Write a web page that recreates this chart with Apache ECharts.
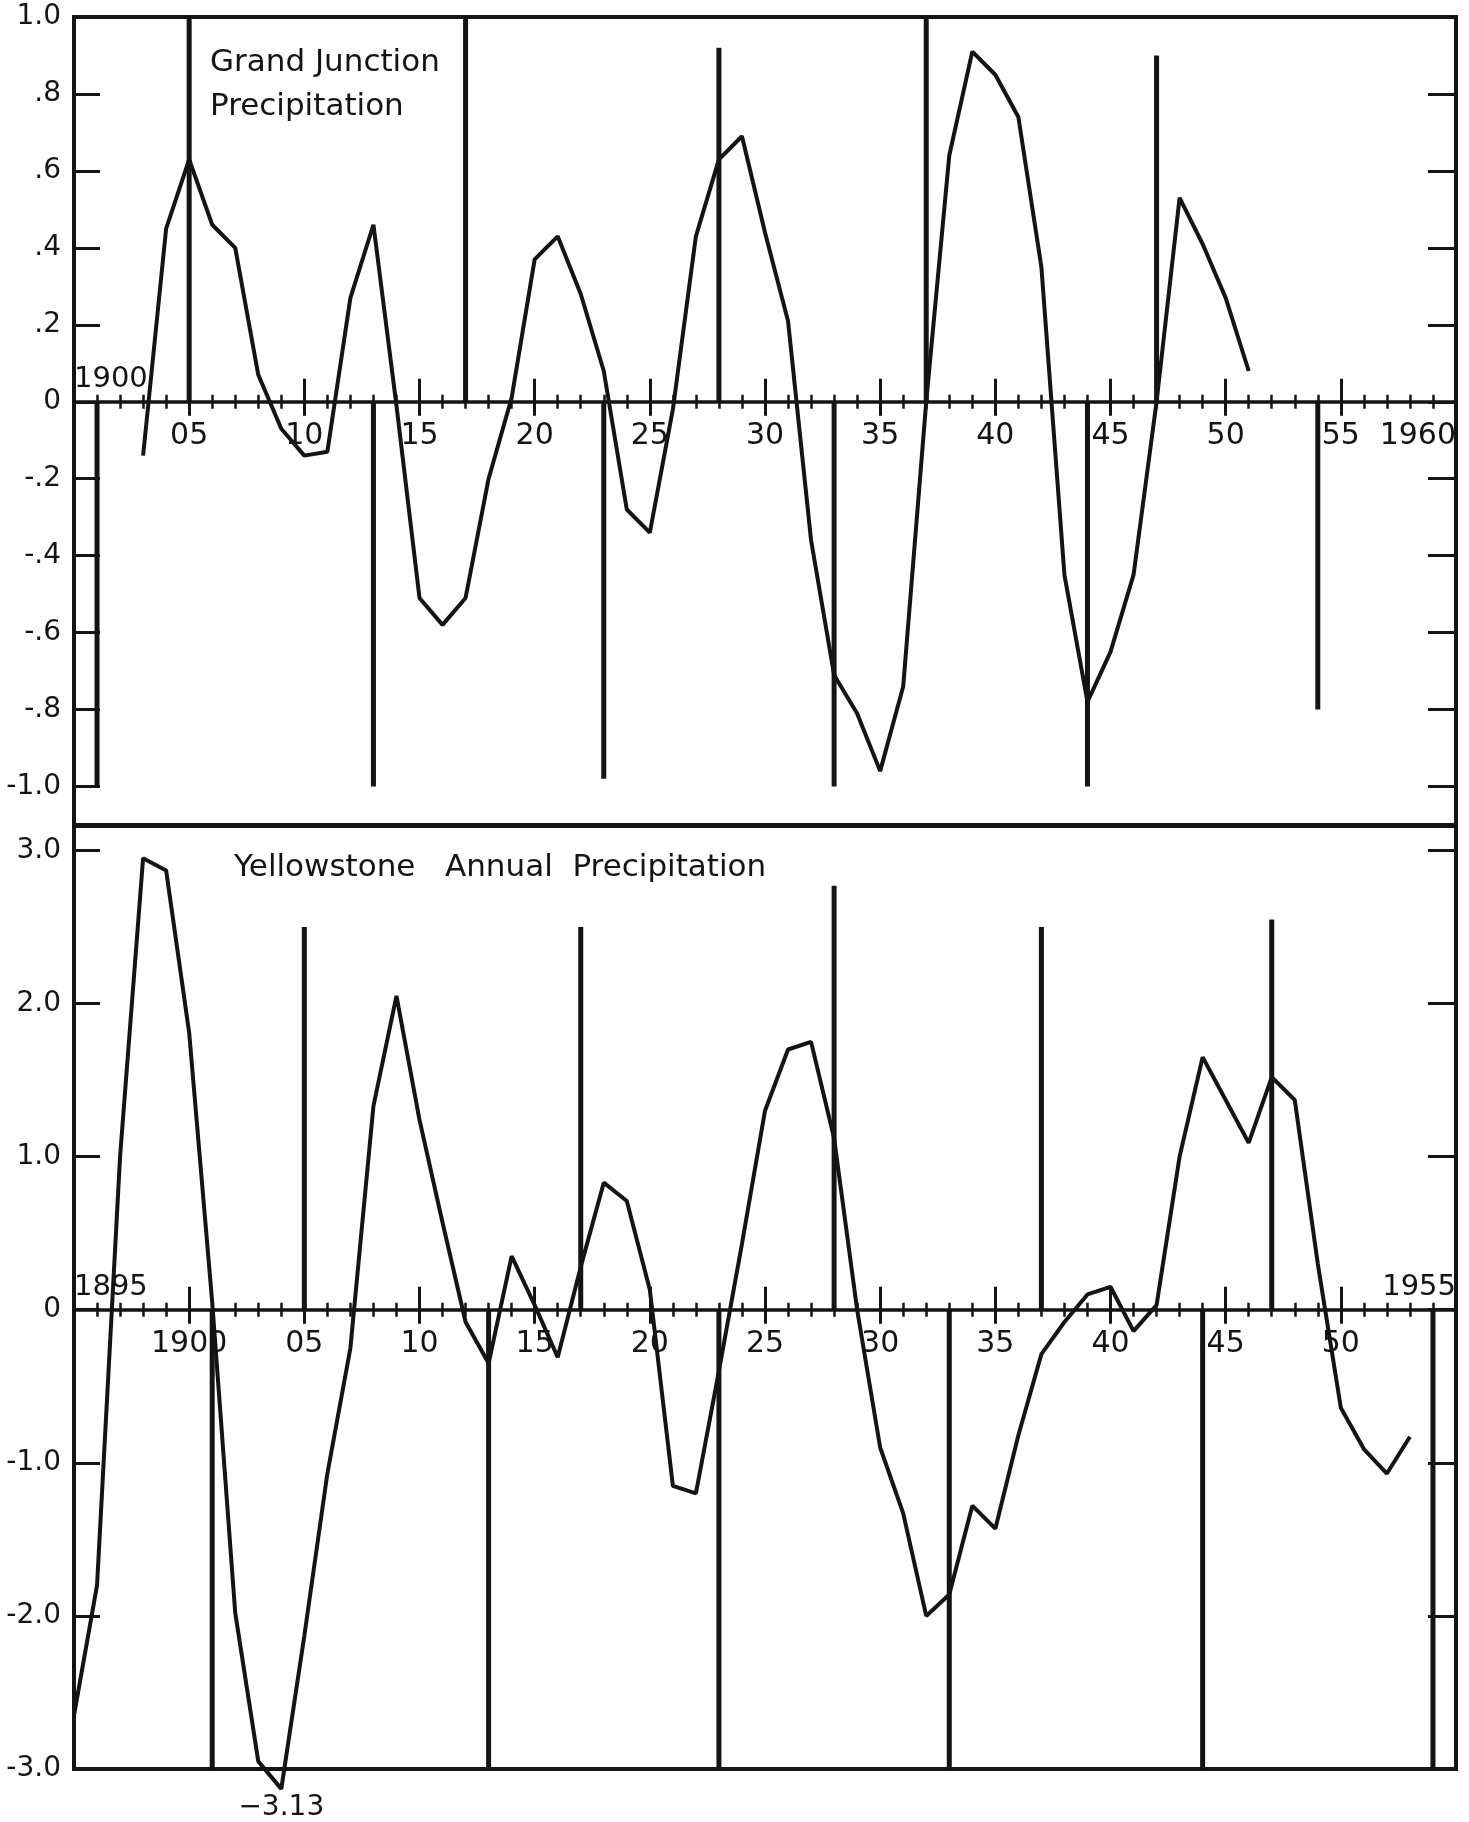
<!DOCTYPE html>
<html>
<head>
<meta charset="utf-8">
<script src="https://cdn.jsdelivr.net/npm/echarts@6/dist/echarts.min.js"></script>
<style>
html,body{margin:0;padding:0;background:#ffffff;}
#chart{width:1469px;height:1822px;}
</style>
</head>
<body>
<div id="chart"></div>
<script>
// ---------- Grand Junction precipitation (top panel) ----------
const gjYears = [1903,1904,1905,1906,1907,1908,1909,1910,1911,1912,1913,1914,1915,1916,1917,1918,1919,1920,
  1921,1922,1923,1924,1925,1926,1927,1928,1929,1930,1931,1932,1933,1934,1935,1936,1937,1938,1939,1940,
  1941,1942,1943,1944,1945,1946,1947,1948,1949,1950,1951];
const gjValues = [-0.14,0.45,0.63,0.46,0.40,0.07,-0.07,-0.14,-0.13,0.27,0.46,-0.01,-0.51,-0.58,-0.51,-0.20,0.01,0.37,
  0.43,0.28,0.08,-0.28,-0.34,-0.02,0.43,0.63,0.69,0.44,0.21,-0.36,-0.71,-0.81,-0.96,-0.74,0.00,0.64,0.91,0.85,
  0.74,0.35,-0.45,-0.78,-0.65,-0.45,0.00,0.53,0.41,0.27,0.08];

// vertical marker lines (sunspot years) in the top panel
const gjMarkYears  = [1901,1905,1913,1917,1923,1928,1933,1937,1944,1947,1954];
const gjMarkValues = [-1.0,1.0,-1.0,1.0,-0.98,0.92,-1.0,1.0,-1.0,0.90,-0.80];

// ---------- Yellowstone annual precipitation (bottom panel) ----------
const ysYears = [1895,1896,1897,1898,1899,1900,1901,1902,1903,1904,1905,1906,1907,1908,1909,1910,1911,1912,
  1913,1914,1915,1916,1917,1918,1919,1920,1921,1922,1923,1924,1925,1926,1927,1928,1929,1930,1931,1932,
  1933,1934,1935,1936,1937,1938,1939,1940,1941,1942,1943,1944,1945,1946,1947,1948,1949,1950,1951,1952,1953];
const ysValues = [-2.65,-1.80,1.00,2.95,2.87,1.81,0.05,-1.98,-2.95,-3.13,-2.13,-1.07,-0.25,1.33,2.05,1.24,0.57,-0.08,
  -0.35,0.35,0.03,-0.31,0.28,0.83,0.71,0.13,-1.15,-1.20,-0.40,0.43,1.30,1.70,1.75,1.12,0.00,-0.90,-1.33,-2.00,
  -1.86,-1.28,-1.43,-0.82,-0.29,-0.08,0.10,0.15,-0.14,0.03,1.00,1.65,1.37,1.09,1.52,1.37,0.30,-0.64,-0.91,-1.07,-0.83];

const ysMarkYears  = [1901,1905,1913,1917,1923,1928,1933,1937,1944,1947,1954];
const ysMarkValues = [-3.0,2.5,-3.0,2.5,-3.0,2.77,-3.0,2.5,-3.0,2.55,-3.0];

// ---------- tick labels ----------
const topYTicks  = [-1.0,-0.8,-0.6,-0.4,-0.2,0,0.2,0.4,0.6,0.8,1.0];
const topYLabels = ['-1.0','-.8','-.6','-.4','-.2','0','.2','.4','.6','.8','1.0'];
const botYTicks  = [-3,-2,-1,0,1,2,3];
const botYLabels = ['-3.0','-2.0','-1.0','0','1.0','2.0','3.0'];

const topXTicks  = [1905,1910,1915,1920,1925,1930,1935,1940,1945,1950,1955,1960];
const topXLabels = ['05','10','15','20','25','30','35','40','45','50','55','1960'];
const topXCornerTicks  = [1900];
const topXCornerLabels = ['1900'];

const botXTicks  = [1900,1905,1910,1915,1920,1925,1930,1935,1940,1945,1950];
const botXLabels = ['1900','05','10','15','20','25','30','35','40','45','50'];
const botXCornerTicks  = [1895,1955];
const botXCornerLabels = ['1895','1955'];

const titleTop = 'Grand Junction\nPrecipitation';
const titleBottom = 'Yellowstone   Annual  Precipitation';

// axis ranges
const topXRange = [1900, 1960];
const botXRange = [1895, 1955];
const topYRange = [-1.1, 1.0];
const botYRange = [-3.0, 3.16];

// ---------- helpers ----------
const INK = '#141414';
const FONT = 'DejaVu Sans';
function lookup(ticks, labels) {
  return function (v) {
    for (let i = 0; i < ticks.length; i++) {
      if (Math.abs(ticks[i] - v) < 1e-6) return labels[i];
    }
    return '';
  };
}
function zip(a, b) { return a.map((x, i) => [x, b[i]]); }

// panel layout
const topPanel = { left: 74, top: 17, width: 1382, height: 808 };
const botPanel = { left: 74, top: 826, width: 1382, height: 943 };
// split each panel at its zero line so the year axis sits on y = 0
function zeroSplit(panel, yr) {
  const upper = panel.height * yr[1] / (yr[1] - yr[0]);
  return [
    { left: panel.left, top: panel.top, width: panel.width, height: upper, show: false },
    { left: panel.left, top: panel.top + upper, width: panel.width, height: panel.height - upper, show: false }
  ];
}
const topSplit = zeroSplit(topPanel, topYRange);
const botSplit = zeroSplit(botPanel, botYRange);

function hiddenX(gridIndex, r) {
  return { type: 'value', gridIndex: gridIndex, min: r[0], max: r[1], show: false,
    axisLine: { onZero: false }, splitLine: { show: false } };
}
function hiddenY(gridIndex) {
  return { type: 'value', gridIndex: gridIndex, min: 0, max: 1, show: false,
    axisLine: { onZero: false }, splitLine: { show: false } };
}
function yearAxisDown(gridIndex, r, ticks, labels) {
  return {
    type: 'value', gridIndex: gridIndex, min: r[0], max: r[1], interval: 5, position: 'bottom',
    axisLine: { show: true, onZero: false, lineStyle: { color: INK, width: 3.5 } },
    axisTick: { show: true, inside: false, length: 14, lineStyle: { color: INK, width: 3 } },
    minorTick: { show: true, splitNumber: 5, length: 7, lineStyle: { color: INK, width: 2.5 } },
    splitLine: { show: false }, minorSplitLine: { show: false },
    axisLabel: {
      show: true, margin: 19, color: INK, fontFamily: FONT, fontSize: 30,
      showMinLabel: true, showMaxLabel: true, alignMaxLabel: 'right',
      formatter: lookup(ticks, labels)
    }
  };
}
function yearAxisUp(gridIndex, r, ticks, labels) {
  return {
    type: 'value', gridIndex: gridIndex, min: r[0], max: r[1], interval: 5, position: 'top',
    axisLine: { show: false, onZero: false },
    axisTick: { show: true, inside: false, length: 23, lineStyle: { color: INK, width: 3 } },
    minorTick: { show: true, splitNumber: 5, length: 7, lineStyle: { color: INK, width: 2.5 } },
    splitLine: { show: false }, minorSplitLine: { show: false },
    axisLabel: {
      show: true, margin: 8, color: INK, fontFamily: FONT, fontSize: 29,
      showMinLabel: true, showMaxLabel: true, alignMinLabel: 'left', alignMaxLabel: 'right',
      formatter: lookup(ticks, labels)
    }
  };
}
function yAxisLeft(gridIndex, r, ticks, labels) {
  return {
    type: 'value', gridIndex: gridIndex, min: r[0], max: r[1], position: 'left',
    axisLine: { show: false, onZero: false },
    axisTick: { show: true, inside: true, length: 26, customValues: ticks, lineStyle: { color: INK, width: 3 } },
    splitLine: { show: false },
    axisLabel: {
      show: true, margin: 13, color: INK, fontFamily: FONT, fontSize: 28,
      customValues: ticks, formatter: lookup(ticks, labels)
    }
  };
}
function yAxisRight(gridIndex, r, ticks) {
  return {
    type: 'value', gridIndex: gridIndex, min: r[0], max: r[1], position: 'right',
    axisLine: { show: false, onZero: false },
    axisTick: { show: true, inside: true, length: 28, customValues: ticks, lineStyle: { color: INK, width: 3 } },
    splitLine: { show: false },
    axisLabel: { show: false }
  };
}

const ysMinIdx = ysValues.indexOf(Math.min.apply(null, ysValues));
const frameStyle = { show: true, borderColor: INK, borderWidth: 4, backgroundColor: 'transparent' };

const option = {
  animation: false,
  backgroundColor: '#ffffff',
  title: [
    { text: titleTop, left: 210, top: 41, padding: 0,
      textStyle: { fontFamily: FONT, fontSize: 31, fontWeight: 'normal', color: INK, lineHeight: 44 } },
    { text: titleBottom, left: 234, top: 852, padding: 0,
      textStyle: { fontFamily: FONT, fontSize: 31, fontWeight: 'normal', color: INK } }
  ],
  grid: [
    Object.assign({}, topPanel, frameStyle),
    Object.assign({}, botPanel, frameStyle),
    topSplit[0], topSplit[1], botSplit[0], botSplit[1]
  ],
  xAxis: [
    hiddenX(0, topXRange),
    hiddenX(1, botXRange),
    yearAxisDown(2, topXRange, topXTicks, topXLabels),
    yearAxisUp(3, topXRange, topXCornerTicks, topXCornerLabels),
    yearAxisDown(4, botXRange, botXTicks, botXLabels),
    yearAxisUp(5, botXRange, botXCornerTicks, botXCornerLabels)
  ],
  yAxis: [
    yAxisLeft(0, topYRange, topYTicks, topYLabels),
    yAxisRight(0, topYRange, topYTicks),
    yAxisLeft(1, botYRange, botYTicks, botYLabels),
    yAxisRight(1, botYRange, botYTicks),
    hiddenY(2), hiddenY(3), hiddenY(4), hiddenY(5)
  ],
  series: [
    { name: 'GJ markers', type: 'bar', xAxisIndex: 0, yAxisIndex: 0, barWidth: 5,
      itemStyle: { color: INK }, data: zip(gjMarkYears, gjMarkValues), silent: true },
    { name: 'Grand Junction', type: 'line', xAxisIndex: 0, yAxisIndex: 0, showSymbol: false,
      clip: false, lineStyle: { color: INK, width: 4 }, data: zip(gjYears, gjValues), silent: true },
    { name: 'YS markers', type: 'bar', xAxisIndex: 1, yAxisIndex: 2, barWidth: 5,
      itemStyle: { color: INK }, data: zip(ysMarkYears, ysMarkValues), silent: true },
    { name: 'Yellowstone', type: 'line', xAxisIndex: 1, yAxisIndex: 2, showSymbol: false,
      clip: false, lineStyle: { color: INK, width: 4 }, data: zip(ysYears, ysValues), silent: true },
    { name: 'min note', type: 'scatter', xAxisIndex: 1, yAxisIndex: 2, clip: false, symbolSize: 1,
      itemStyle: { color: 'rgba(0,0,0,0)' }, silent: true, z: 10,
      data: [[ysYears[ysMinIdx], ysValues[ysMinIdx]]],
      label: { show: true, position: 'bottom', distance: 4, color: INK, opacity: 1, fontFamily: FONT, fontSize: 28,
        formatter: function (p) { return '\u2212' + Math.abs(p.value[1]).toFixed(2); } },
      labelLayout: { hideOverlap: false } }
  ]
};

const chart = echarts.init(document.getElementById('chart'), null, { renderer: 'canvas' });
chart.setOption(option);
</script>
</body>
</html>
